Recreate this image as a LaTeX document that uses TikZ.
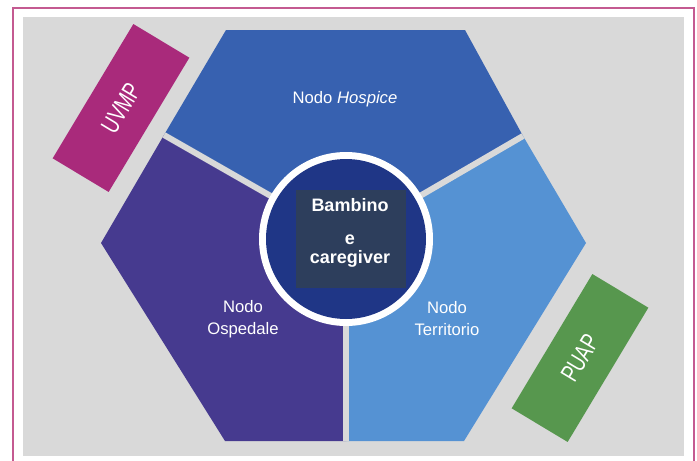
\documentclass[tikz,border=0pt]{standalone}
\usepackage{tikz}
\usepackage{graphicx}
\usepackage{fontspec}
\setmainfont{Liberation Sans}

\definecolor{framepink}{RGB}{196,90,145}
\definecolor{bggrey}{RGB}{217,217,217}
\definecolor{hospice}{RGB}{55,97,176}
\definecolor{ospedale}{RGB}{70,58,143}
\definecolor{territorio}{RGB}{85,146,211}
\definecolor{core}{RGB}{31,54,134}
\definecolor{corebox}{RGB}{45,62,92}
\definecolor{uvmp}{RGB}{169,42,123}
\definecolor{puap}{RGB}{87,151,78}

\begin{document}
\begin{tikzpicture}[x=0.75pt,y=-0.75pt]
\tikzstyle{every node}+=[inner sep=0pt, text=white]
\tikzstyle{label}=[align=center, font=\fontsize{12.5}{16.5}\selectfont]
\tikzstyle{core text}=[font=\fontsize{13.5}{16}\selectfont\bfseries]
\tikzstyle{tag}=[rotate=59, minimum width=117.5pt, minimum height=49pt,
  font=\fontsize{19}{19}\selectfont]
\useasboundingbox (0,0) rectangle (697,461);
\draw [framepink, line width=1.5pt] (13,7.5) rectangle (694,480);
\fill [bggrey] (23,17) rectangle (684,456);
% the three sectors of the hexagon
\coordinate (c) at (346,239);
\coordinate (tl) at (164,135);
\coordinate (tr) at (523,136);
\coordinate (b) at (346,441);
\fill [hospice] (c) -- (tl) -- (226,30) -- (465,30) -- (tr) -- cycle;
\fill [territorio] (c) -- (tr) -- (586,243) -- (464,441) -- (b) -- cycle;
\fill [ospedale] (c) -- (b) -- (225,441) -- (101,243) -- (tl) -- cycle;
\draw [bggrey, line width=4.5pt] (c) -- (tl);
\draw [bggrey, line width=4.5pt] (c) -- (tr);
\draw [bggrey, line width=4.5pt] (c) -- (b);
% centre
\fill [white] (c) circle (87);
\fill [core] (c) circle (80);
\fill [corebox] (296,190) rectangle (406,288);
\node [core text] (bambino) at (350,205) {Bambino};
\node [core text, anchor=base] (e) at (350,244) {e};
\node [core text, anchor=base] (caregiver) at (350,263) {caregiver};
% sector labels
\node [label] (nhospice) at (345,99) {Nodo \textit{Hospice}};
\node [label] (nospedale) at (243,319) {Nodo\\Ospedale};
\node [label] (nterritorio) at (447,319) {Nodo\\Territorio};
% side tags
\node [tag, fill=uvmp] (tuvmp) at (121,108) {\scalebox{0.72}[1]{UVMP}};
\node [tag, fill=puap] (tpuap) at (580,358) {\scalebox{0.72}[1]{PUAP}};
\end{tikzpicture}
\end{document}
